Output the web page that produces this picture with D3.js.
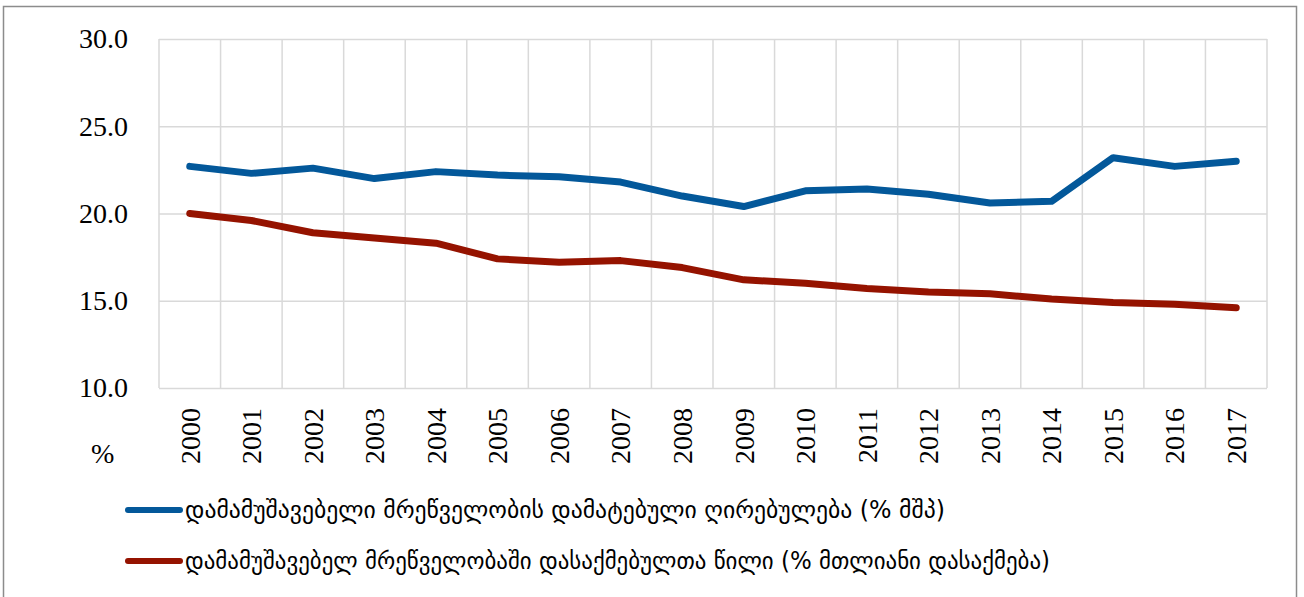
<!DOCTYPE html>
<html>
<head>
<meta charset="utf-8">
<script src="https://cdn.jsdelivr.net/npm/d3@7"></script>
<style>
  body { margin: 0; background: #fff; }
  svg { display: block; }
  .grid line, .grid path { stroke: #d9d9d9; stroke-width: 1.5; }
  .num { font-family: "Liberation Serif", "Times New Roman", serif; font-size: 28px; fill: #000; }
  .legend-label { font-family: "DejaVu Sans", "Noto Sans", sans-serif; font-size: 24px; fill: #000; }
</style>
</head>
<body>
<svg id="chart" width="1304" height="597"></svg>
<script>
// years on the x axis
const years = ["2000", "2001", "2002", "2003", "2004", "2005", "2006", "2007", "2008",
    "2009", "2010", "2011", "2012", "2013", "2014", "2015", "2016", "2017"];

// manufacturing value added (% of GDP)
const valueAdded = [22.7, 22.3, 22.6, 22.0, 22.4, 22.2, 22.1, 21.8, 21.0,
    20.4, 21.3, 21.4, 21.1, 20.6, 20.7, 23.2, 22.7, 23.0];

// share employed in manufacturing (% of total employment)
const employmentShare = [20.0, 19.6, 18.9, 18.6, 18.3, 17.4, 17.2, 17.3, 16.9,
    16.2, 16.0, 15.7, 15.5, 15.4, 15.1, 14.9, 14.8, 14.6];

const yTicks = [10, 15, 20, 25, 30];

const seriesNames = [
    "დამამუშავებელი მრეწველობის დამატებული ღირებულება (% მშპ)",
    "დამამუშავებელ მრეწველობაში დასაქმებულთა წილი (% მთლიანი დასაქმება)"
];
const seriesColors = ["#03589a", "#951300"];

(function () {
    let svg = d3.select("#chart");

    // outer frame
    svg.append("rect")
        .attr("x", 3.5).attr("y", 6.5)
        .attr("width", 1293).attr("height", 600)
        .attr("fill", "none")
        .attr("stroke", "#8c8c8c")
        .attr("stroke-width", 1.5);

    let plotLeft = 159, plotRight = 1267, plotTop = 39, plotBottom = 388;

    let x = d3.scaleBand().domain(years).range([plotLeft, plotRight]);
    let y = d3.scaleLinear().domain([10, 30]).range([plotBottom, plotTop]);

    // horizontal gridlines
    svg.append("g")
        .attr("class", "grid")
        .attr("transform", "translate(" + plotLeft + ",0)")
        .call(d3.axisRight(y).tickValues(yTicks).tickSize(plotRight - plotLeft).tickFormat(""))
        .call(g => g.select(".domain").remove());

    // vertical gridlines at category boundaries
    let bounds = years.map(function (d) { return x(d); }).concat([plotRight]);
    svg.append("g")
        .attr("class", "grid")
        .selectAll("line")
        .data(bounds)
        .enter().append("line")
        .attr("x1", function (d) { return d; })
        .attr("x2", function (d) { return d; })
        .attr("y1", plotTop)
        .attr("y2", plotBottom);

    // y axis labels
    let yAxis = svg.append("g")
        .attr("transform", "translate(" + (plotLeft - 31) + ",0)")
        .call(d3.axisLeft(y).tickValues(yTicks).tickSize(0).tickFormat(d3.format(".1f")));
    yAxis.attr("font-size", null).attr("font-family", null);
    yAxis.select(".domain").remove();
    yAxis.selectAll("text")
        .attr("class", "num")
        .attr("x", 0)
        .attr("dy", "0.32em");

    // x axis labels, rotated
    let xAxis = svg.append("g")
        .attr("transform", "translate(0," + plotBottom + ")")
        .call(d3.axisBottom(x).tickSize(0));
    xAxis.attr("font-size", null).attr("font-family", null);
    xAxis.select(".domain").remove();
    xAxis.selectAll("text")
        .attr("class", "num")
        .attr("transform", "rotate(-90)")
        .attr("text-anchor", "end")
        .attr("x", -20)
        .attr("y", 0)
        .attr("dy", "0.35em");

    svg.append("text")
        .attr("class", "num")
        .attr("x", 91)
        .attr("y", 463)
        .text("%");

    // the two lines
    let line = d3.line()
        .x(function (d, i) { return x(years[i]) + x.bandwidth() / 2; })
        .y(function (d) { return y(d); });

    [valueAdded, employmentShare].forEach(function (values, i) {
        svg.append("path")
            .datum(values)
            .attr("fill", "none")
            .attr("stroke", seriesColors[i])
            .attr("stroke-width", 7)
            .attr("stroke-linejoin", "round")
            .attr("stroke-linecap", "round")
            .attr("d", line);
    });

    // legend
    let legendY = [510, 561];
    let legendRight = [945, 1050];
    seriesNames.forEach(function (name, i) {
        svg.append("line")
            .attr("x1", 128).attr("x2", 180)
            .attr("y1", legendY[i]).attr("y2", legendY[i])
            .attr("stroke", seriesColors[i])
            .attr("stroke-width", 6)
            .attr("stroke-linecap", "round");
        svg.append("text")
            .attr("class", "legend-label")
            .attr("x", 185)
            .attr("y", legendY[i] + 8)
            .attr("textLength", legendRight[i] - 185)
            .attr("lengthAdjust", "spacingAndGlyphs")
            .text(name);
    });
})();
</script>
</body>
</html>
